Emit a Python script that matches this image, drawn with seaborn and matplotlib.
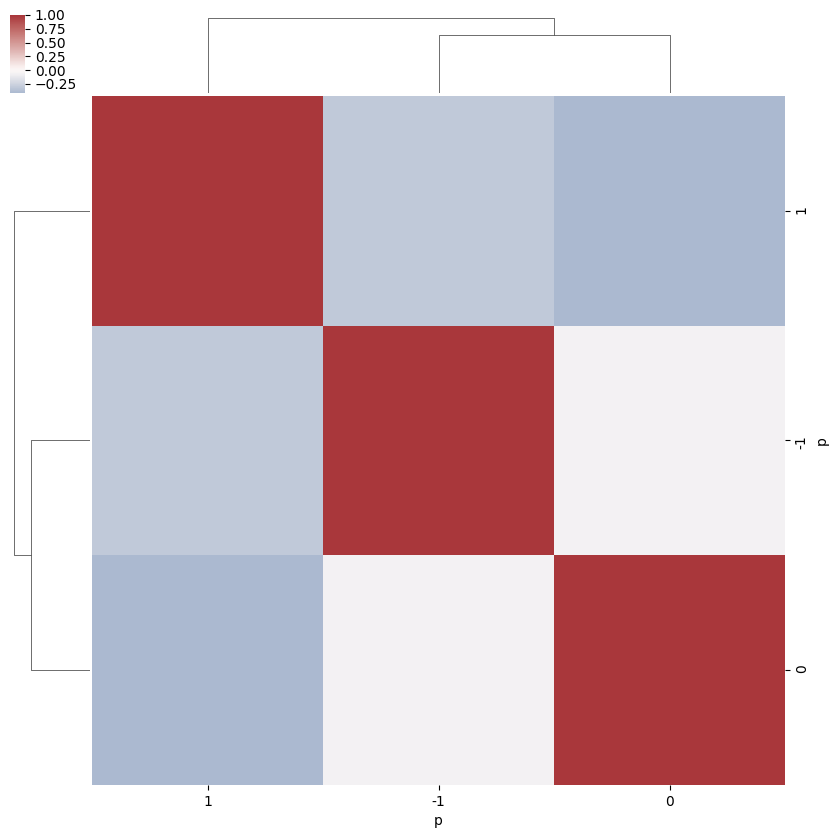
import numpy as np
import pandas as pd
import seaborn as sns
import matplotlib
matplotlib.use("Agg")
import matplotlib.pyplot as plt

labels = [1, -1, 0]
row_1 = [1.00, -0.32, -0.42]
row_m1 = [-0.32, 1.00, -0.07]
row_0 = [-0.42, -0.07, 1.00]
cbar_ticks = [-0.25, 0.00, 0.25, 0.50, 0.75, 1.00]

corr = pd.DataFrame([row_1, row_m1, row_0],
                    index=pd.Index(labels, name="p"),
                    columns=pd.Index(labels, name="p"))

W = H = 838.0
g = sns.clustermap(corr, cmap="vlag", center=0, figsize=(8.38, 8.38),
                   dendrogram_ratio=0.1)


def frac(x0, y0, x1, y1):
    return [x0 / W, 1 - y1 / H, (x1 - x0) / W, (y1 - y0) / H]


g.ax_heatmap.set_position(frac(92, 96, 785, 785))
g.ax_col_dendrogram.set_position(frac(92, 14.2, 785, 93.5))
g.ax_row_dendrogram.set_position(frac(10.2, 96, 90, 785))
g.ax_cbar.set_position(frac(10, 15, 25, 93.3))

g.ax_cbar.set_yticks(cbar_ticks)
g.ax_cbar.set_yticklabels([f"{t:.2f}".replace("-", "\u2212") for t in cbar_ticks],
                          fontsize=10)

g.figure.savefig("out.png", dpi=100)
